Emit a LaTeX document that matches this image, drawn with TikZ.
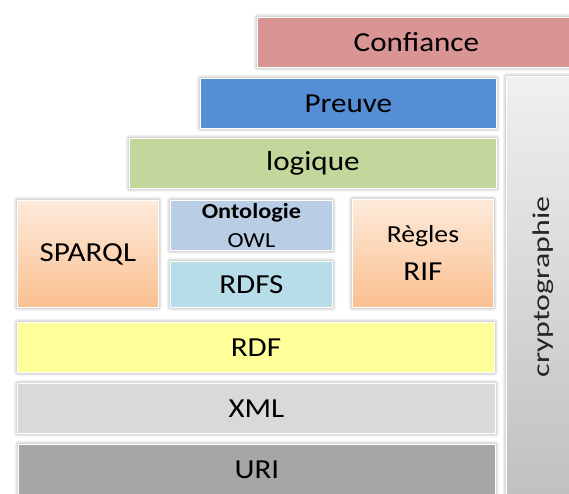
\documentclass[tikz,border=0pt]{standalone}
\usepackage{fontspec}
\setmainfont{Carlito}[FakeStretch=1.13]
\newfontfamily\cryptofont{Carlito}[FakeStretch=1.33]
\usetikzlibrary{shadows.blur}
\definecolor{cconf}{RGB}{217,149,148}
\definecolor{cpreuve}{RGB}{85,142,213}
\definecolor{clog}{RGB}{195,214,155}
\definecolor{conto}{RGB}{185,205,229}
\definecolor{crdfs}{RGB}{183,222,232}
\definecolor{corangetop}{RGB}{253,234,218}
\definecolor{corangebot}{RGB}{250,192,144}
\definecolor{crdf}{RGB}{255,255,153}
\definecolor{cxml}{RGB}{217,217,217}
\definecolor{curi}{RGB}{166,166,166}
\definecolor{ccrtop}{RGB}{240,240,240}
\definecolor{ccrbot}{RGB}{192,192,192}
\tikzset{
  layer/.style={draw=white, line width=0.8pt, anchor=north west, inner sep=0pt,
    align=center, text=black,
    font=\fontsize{27.5}{30}\selectfont,
    blur shadow={shadow xshift=0pt, shadow yshift=0pt, shadow blur radius=4pt,
      shadow opacity=45, shadow blur steps=6}},
  orangebox/.style={layer, top color=corangetop, bottom color=corangebot}
}
\begin{document}
\begin{tikzpicture}[x=1pt,y=-1pt]
\useasboundingbox (0,0) rectangle (569,493);
% cryptographie column
\node[layer, top color=ccrtop, bottom color=ccrbot, minimum width=66pt, minimum height=420pt] (crypto) at (506,76) {};
\node[rotate=90, text=black!85, font=\cryptofont\fontsize{24}{28}\selectfont] (cryptotxt) at (543,287) {cryptographie};
% top layers
\node[layer, fill=cconf, minimum width=318pt, minimum height=50pt] (conf) at (257,17) {Confiance};
\node[layer, fill=cpreuve, minimum width=296pt, minimum height=50pt] (preuve) at (200,78) {Preuve};
\node[layer, fill=clog, minimum width=367pt, minimum height=50pt] (logique) at (129,138) {logique};
% middle
\node[orangebox, minimum width=141pt, minimum height=107pt] (sparql) at (17,200) {SPARQL};
\node[layer, fill=conto, minimum width=162pt, minimum height=50pt,
  font=\fontsize{21.5}{30}\selectfont] (onto) at (170,200) {\textbf{Ontologie}\\[-1pt]OWL};
\node[layer, fill=crdfs, minimum width=162pt, minimum height=46pt] (rdfs) at (170,261) {RDFS};
\node[orangebox, minimum width=141pt, minimum height=108pt,
  font=\fontsize{27.5}{38}\selectfont] (regles) at (352,199) {{\fontsize{24.5}{38}\selectfont Règles}\\RIF};
% bottom layers
\node[layer, fill=crdf, minimum width=477pt, minimum height=50pt] (rdf) at (17,322) {RDF};
\node[layer, fill=cxml, minimum width=478pt, minimum height=50pt] (xml) at (17,383) {XML};
\node[layer, fill=curi, minimum width=477pt, minimum height=52pt] (uri) at (18,444) {\raisebox{2pt}{URI}};
\end{tikzpicture}
\end{document}
